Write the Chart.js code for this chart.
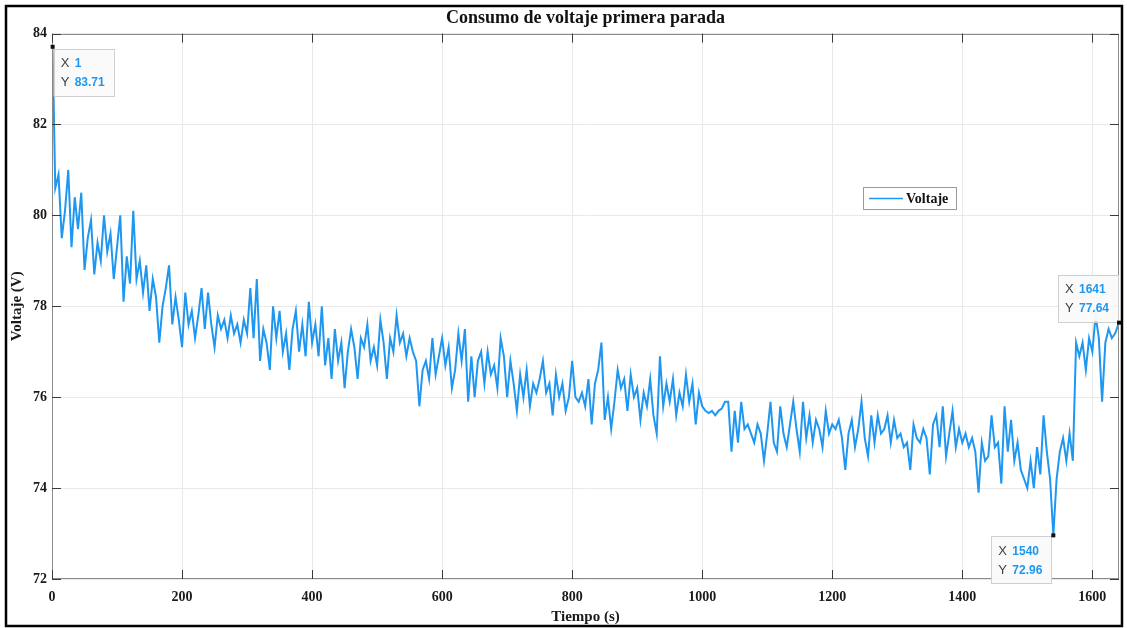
<!DOCTYPE html>
<html>
<head>
<meta charset="utf-8">
<script src="https://cdn.jsdelivr.net/npm/chart.js@4/dist/chart.umd.min.js"></script>
<style>
  html, body { margin: 0; padding: 0; background: #fff; }
  #wrap { width: 1127px; height: 628px; }
</style>
</head>
<body>
<div id="wrap"><canvas id="myChart" width="1127" height="628"></canvas></div>
<script>
// tiempo (s)
var times = [
  1, 5, 10, 15, 20, 25, 30, 35, 40, 45,
  50, 55, 60, 65, 70, 75, 80, 85, 90, 95,
  100, 105, 110, 115, 120, 125, 130, 135, 140, 145,
  150, 155, 160, 165, 170, 175, 180, 185, 190, 195,
  200, 205, 210, 215, 220, 225, 230, 235, 240, 245,
  250, 255, 260, 265, 270, 275, 280, 285, 290, 295,
  300, 305, 310, 315, 320, 325, 330, 335, 340, 345,
  350, 355, 360, 365, 370, 375, 380, 385, 390, 395,
  400, 405, 410, 415, 420, 425, 430, 435, 440, 445,
  450, 455, 460, 465, 470, 475, 480, 485, 490, 495,
  500, 505, 510, 515, 520, 525, 530, 535, 540, 545,
  550, 555, 560, 565, 570, 575, 580, 585, 590, 595,
  600, 605, 610, 615, 620, 625, 630, 635, 640, 645,
  650, 655, 660, 665, 670, 675, 680, 685, 690, 695,
  700, 705, 710, 715, 720, 725, 730, 735, 740, 745,
  750, 755, 760, 765, 770, 775, 780, 785, 790, 795,
  800, 805, 810, 815, 820, 825, 830, 835, 840, 845,
  850, 855, 860, 865, 870, 875, 880, 885, 890, 895,
  900, 905, 910, 915, 920, 925, 930, 935, 940, 945,
  950, 955, 960, 965, 970, 975, 980, 985, 990, 995,
  1000, 1005, 1010, 1015, 1020, 1025, 1030, 1035, 1040, 1045,
  1050, 1055, 1060, 1065, 1070, 1075, 1080, 1085, 1090, 1095,
  1100, 1105, 1110, 1115, 1120, 1125, 1130, 1135, 1140, 1145,
  1150, 1155, 1160, 1165, 1170, 1175, 1180, 1185, 1190, 1195,
  1200, 1205, 1210, 1215, 1220, 1225, 1230, 1235, 1240, 1245,
  1250, 1255, 1260, 1265, 1270, 1275, 1280, 1285, 1290, 1295,
  1300, 1305, 1310, 1315, 1320, 1325, 1330, 1335, 1340, 1345,
  1350, 1355, 1360, 1365, 1370, 1375, 1380, 1385, 1390, 1395,
  1400, 1405, 1410, 1415, 1420, 1425, 1430, 1435, 1440, 1445,
  1450, 1455, 1460, 1465, 1470, 1475, 1480, 1485, 1490, 1495,
  1500, 1505, 1510, 1515, 1520, 1525, 1530, 1535, 1540, 1545,
  1550, 1555, 1560, 1565, 1570, 1575, 1580, 1585, 1590, 1595,
  1600, 1605, 1610, 1615, 1620, 1625, 1630, 1635, 1640, 1641
];

// voltaje (V)
var volts = [
  83.71, 80.6, 80.9, 79.5, 80.1, 81.0, 79.3, 80.4, 79.7, 80.5,
  78.8, 79.5, 79.9, 78.7, 79.4, 79.0, 80.0, 79.2, 79.6, 78.6,
  79.3, 80.0, 78.1, 79.1, 78.5, 80.1, 78.6, 79.0, 78.3, 78.9,
  77.9, 78.6, 78.2, 77.2, 78.0, 78.4, 78.9, 77.6, 78.2, 77.7,
  77.1, 78.3, 77.6, 77.9, 77.3, 77.8, 78.4, 77.5, 78.3, 77.6,
  77.1, 77.8, 77.5, 77.7, 77.3, 77.8, 77.4, 77.6, 77.2, 77.7,
  77.4, 78.4, 77.3, 78.6, 76.8, 77.5, 77.2, 76.6, 78.0, 77.3,
  77.9, 77.0, 77.4, 76.6, 77.5, 77.9, 77.0, 77.6, 76.9, 78.1,
  77.2, 77.6, 76.9, 78.0, 76.7, 77.3, 76.4, 77.5, 76.8, 77.2,
  76.2, 77.0, 77.5, 77.1, 76.4, 77.3, 77.1, 77.6, 76.8, 77.1,
  76.7, 77.7, 77.2, 76.4, 77.3, 77.0, 77.8, 77.2, 77.4, 76.9,
  77.3, 77.0, 76.8, 75.8, 76.6, 76.8, 76.4, 77.3, 76.5, 76.9,
  77.3, 76.7, 77.1, 76.2, 76.6, 77.4, 76.8, 77.5, 75.9, 76.9,
  76.0, 76.8, 77.0, 76.3, 77.0, 76.5, 76.7, 76.2, 77.3, 76.9,
  76.0, 76.8, 76.3, 75.7, 76.5, 76.0, 76.6, 75.8, 76.3, 76.1,
  76.4, 76.8, 76.1, 76.3, 75.6, 76.5, 76.0, 76.3, 75.7, 76.0,
  76.8, 76.0, 75.9, 76.1, 75.8, 76.4, 75.4, 76.3, 76.6, 77.2,
  75.5, 76.0, 75.3, 75.9, 76.6, 76.2, 76.4, 75.7, 76.5, 76.0,
  76.2, 75.5, 76.1, 75.8, 76.4, 75.6, 75.2, 76.9, 75.8, 76.3,
  75.9, 76.4, 75.6, 76.1, 75.8, 76.5, 75.9, 76.3, 75.4, 76.1,
  75.8, 75.7, 75.65, 75.7, 75.6, 75.7, 75.75, 75.9, 75.9, 74.8,
  75.7, 75.0, 75.9, 75.3, 75.4, 75.2, 75.0, 75.4, 75.2, 74.6,
  75.2, 75.9, 75.0, 74.8, 75.8, 75.2, 74.9, 75.4, 75.9, 75.3,
  74.8, 75.9, 75.1, 75.6, 75.0, 75.5, 75.3, 74.9, 75.7, 75.2,
  75.4, 75.3, 75.5, 75.1, 74.4, 75.2, 75.5, 74.9, 75.3, 75.9,
  75.1, 74.7, 75.6, 75.0, 75.6, 75.2, 75.3, 75.6, 75.0, 75.5,
  75.1, 75.2, 74.9, 75.0, 74.4, 75.4, 75.1, 75.0, 75.3, 75.1,
  74.3, 75.4, 75.6, 74.9, 75.8, 74.7, 75.2, 75.7, 74.9, 75.3,
  75.0, 75.2, 74.9, 75.1, 74.8, 73.9, 75.0, 74.6, 74.7, 75.6,
  74.9, 75.0, 74.1, 75.8, 74.8, 75.5, 74.6, 75.0, 74.4, 74.2,
  74.0, 74.6, 74.0, 74.9, 74.3, 75.6, 74.8, 74.2, 72.96, 74.2,
  74.8, 75.1, 74.6, 75.2, 74.6, 77.2, 76.9, 77.2, 76.6, 77.3,
  77.0, 77.8, 77.3, 75.9, 77.2, 77.5, 77.3, 77.4, 77.6, 77.64
];

var xTicks = [0, 200, 400, 600, 800, 1000, 1200, 1400, 1600];
var yTicks = [72, 74, 76, 78, 80, 82, 84];

// data tips
var tipX = [1, 1540, 1641];
var tipY = [83.71, 72.96, 77.64];

var lineColor = '#1f97f0';
var serif = "'Liberation Serif', 'Times New Roman', serif";
var sans = "'Liberation Sans', Arial, sans-serif";

var points = times.map(function (t, i) { return { x: t, y: volts[i] }; });

function drawTip(ctx, px, py, xs, ys, corner) {
  ctx.font = 'bold 12px ' + sans;
  var w = 21 + Math.max(ctx.measureText(xs).width, ctx.measureText(ys).width) + 9;
  var h = 47;
  var bx, by;
  if (corner == 'tl') { bx = px + 1; by = py + 2; }
  else if (corner == 'tr') { bx = px - 2 - w; by = py + 1; }
  else { bx = px - 1 - w; by = py - 1 - h; }
  ctx.save();
  ctx.fillStyle = 'rgba(250,250,250,0.96)';
  ctx.strokeStyle = '#cfcfcf';
  ctx.lineWidth = 1;
  ctx.fillRect(bx, by, w, h);
  ctx.strokeRect(Math.round(bx) + 0.5, Math.round(by) + 0.5, Math.round(w), h);
  ctx.textBaseline = 'middle';
  ctx.textAlign = 'left';
  ctx.font = '13px ' + sans;
  ctx.fillStyle = '#404040';
  ctx.fillText('X', bx + 7, by + 15);
  ctx.fillText('Y', bx + 7, by + 34);
  ctx.font = 'bold 12px ' + sans;
  ctx.fillStyle = lineColor;
  ctx.fillText(xs, bx + 21, by + 15);
  ctx.fillText(ys, bx + 21, by + 34);
  // marker
  ctx.fillStyle = '#111';
  ctx.fillRect(px - 2, py - 2, 4, 4);
  ctx.restore();
}

var framePlugin = {
  id: 'framePlugin',
  afterDraw: function (chart) {
    var ctx = chart.ctx, a = chart.chartArea;
    var xs = chart.scales.x, ys = chart.scales.y;
    ctx.save();
    // axes box
    ctx.strokeStyle = '#8a8a8a';
    ctx.lineWidth = 1;
    ctx.strokeRect(Math.round(a.left) + 0.5, Math.round(a.top) + 0.5, Math.round(a.right - a.left) - 1, Math.round(a.bottom - a.top) - 1);
    // inward ticks
    ctx.strokeStyle = '#3a3a3a';
    ctx.beginPath();
    xTicks.forEach(function (v) {
      var p = Math.round(xs.getPixelForValue(v)) + 0.5;
      ctx.moveTo(p, a.top); ctx.lineTo(p, a.top + 9);
      ctx.moveTo(p, a.bottom); ctx.lineTo(p, a.bottom - 9);
    });
    yTicks.forEach(function (v) {
      var p = Math.round(ys.getPixelForValue(v)) + 0.5;
      ctx.moveTo(a.left, p); ctx.lineTo(a.left + 9, p);
      ctx.moveTo(a.right, p); ctx.lineTo(a.right - 9, p);
    });
    ctx.stroke();

    // legend
    ctx.fillStyle = '#fff';
    ctx.fillRect(863, 187, 93, 22);
    ctx.strokeStyle = '#9a9a9a';
    ctx.strokeRect(863.5, 187.5, 93, 22);
    ctx.strokeStyle = lineColor;
    ctx.lineWidth = 1.5;
    ctx.beginPath();
    ctx.moveTo(869, 198.5); ctx.lineTo(903, 198.5);
    ctx.stroke();
    ctx.fillStyle = '#111';
    ctx.font = 'bold 14px ' + serif;
    ctx.textBaseline = 'middle';
    ctx.fillText(chart.data.datasets[0].label, 906, 199);

    // data tips
    var corners = ['tl', 'tr', 'br'];
    tipX.forEach(function (t, i) {
      drawTip(ctx, xs.getPixelForValue(t), ys.getPixelForValue(tipY[i]),
        String(t), tipY[i].toFixed(2), corners[i]);
    });

    // outer frame
    ctx.strokeStyle = '#000';
    ctx.lineWidth = 2.5;
    ctx.strokeRect(6, 6, 1116, 620);
    ctx.restore();
  }
};

var bgPlugin = {
  id: 'bgPlugin',
  beforeDraw: function (chart) {
    var ctx = chart.ctx;
    ctx.save();
    ctx.fillStyle = '#fff';
    ctx.fillRect(0, 0, chart.width, chart.height);
    ctx.restore();
  }
};

function plainTick(value) {
  return String(value);
}

var ctx = document.getElementById('myChart');
var myChart = new Chart(ctx, {
  type: 'line',
  data: {
    datasets: [{
      label: 'Voltaje',
      data: points,
      borderColor: lineColor,
      backgroundColor: lineColor,
      borderWidth: 2,
      pointRadius: 0,
      tension: 0,
      fill: false
    }]
  },
  options: {
    responsive: false,
    animation: false,
    parsing: false,
    layout: { padding: { left: 6, right: 8, top: 0, bottom: 0 } },
    plugins: {
      legend: { display: false },
      tooltip: { enabled: false },
      title: {
        display: true,
        fullSize: false,
        text: 'Consumo de voltaje primera parada',
        color: '#111',
        font: { family: serif, size: 18, weight: 'bold' },
        padding: { top: 8, bottom: 4 }
      }
    },
    scales: {
      x: {
        type: 'linear',
        min: 0,
        max: 1641,
        afterBuildTicks: function (s) { s.ticks = xTicks.map(function (v) { return { value: v }; }); },
        afterFit: function (s) { s.height = 49; },
        ticks: {
          color: '#1a1a1a',
          font: { family: serif, size: 14, weight: 'bold' },
          padding: 10,
          maxRotation: 0,
          callback: plainTick
        },
        grid: { color: '#e9e9e9', drawTicks: false },
        border: { display: false },
        title: {
          display: true,
          text: 'Tiempo (s)',
          color: '#1a1a1a',
          font: { family: serif, size: 15, weight: 'bold' },
          padding: { top: 0, bottom: 2 }
        }
      },
      y: {
        type: 'linear',
        min: 72,
        max: 84,
        afterBuildTicks: function (s) { s.ticks = yTicks.map(function (v) { return { value: v }; }); },
        afterFit: function (s) { s.width = 46; },
        ticks: {
          color: '#1a1a1a',
          font: { family: serif, size: 14, weight: 'bold' },
          padding: 5,
          callback: plainTick
        },
        grid: { color: '#e9e9e9', drawTicks: false },
        border: { display: false },
        title: {
          display: true,
          text: 'Voltaje (V)',
          color: '#1a1a1a',
          font: { family: serif, size: 15, weight: 'bold' },
          padding: { top: 2, bottom: 0 }
        }
      }
    }
  },
  plugins: [bgPlugin, framePlugin]
});
</script>
</body>
</html>
